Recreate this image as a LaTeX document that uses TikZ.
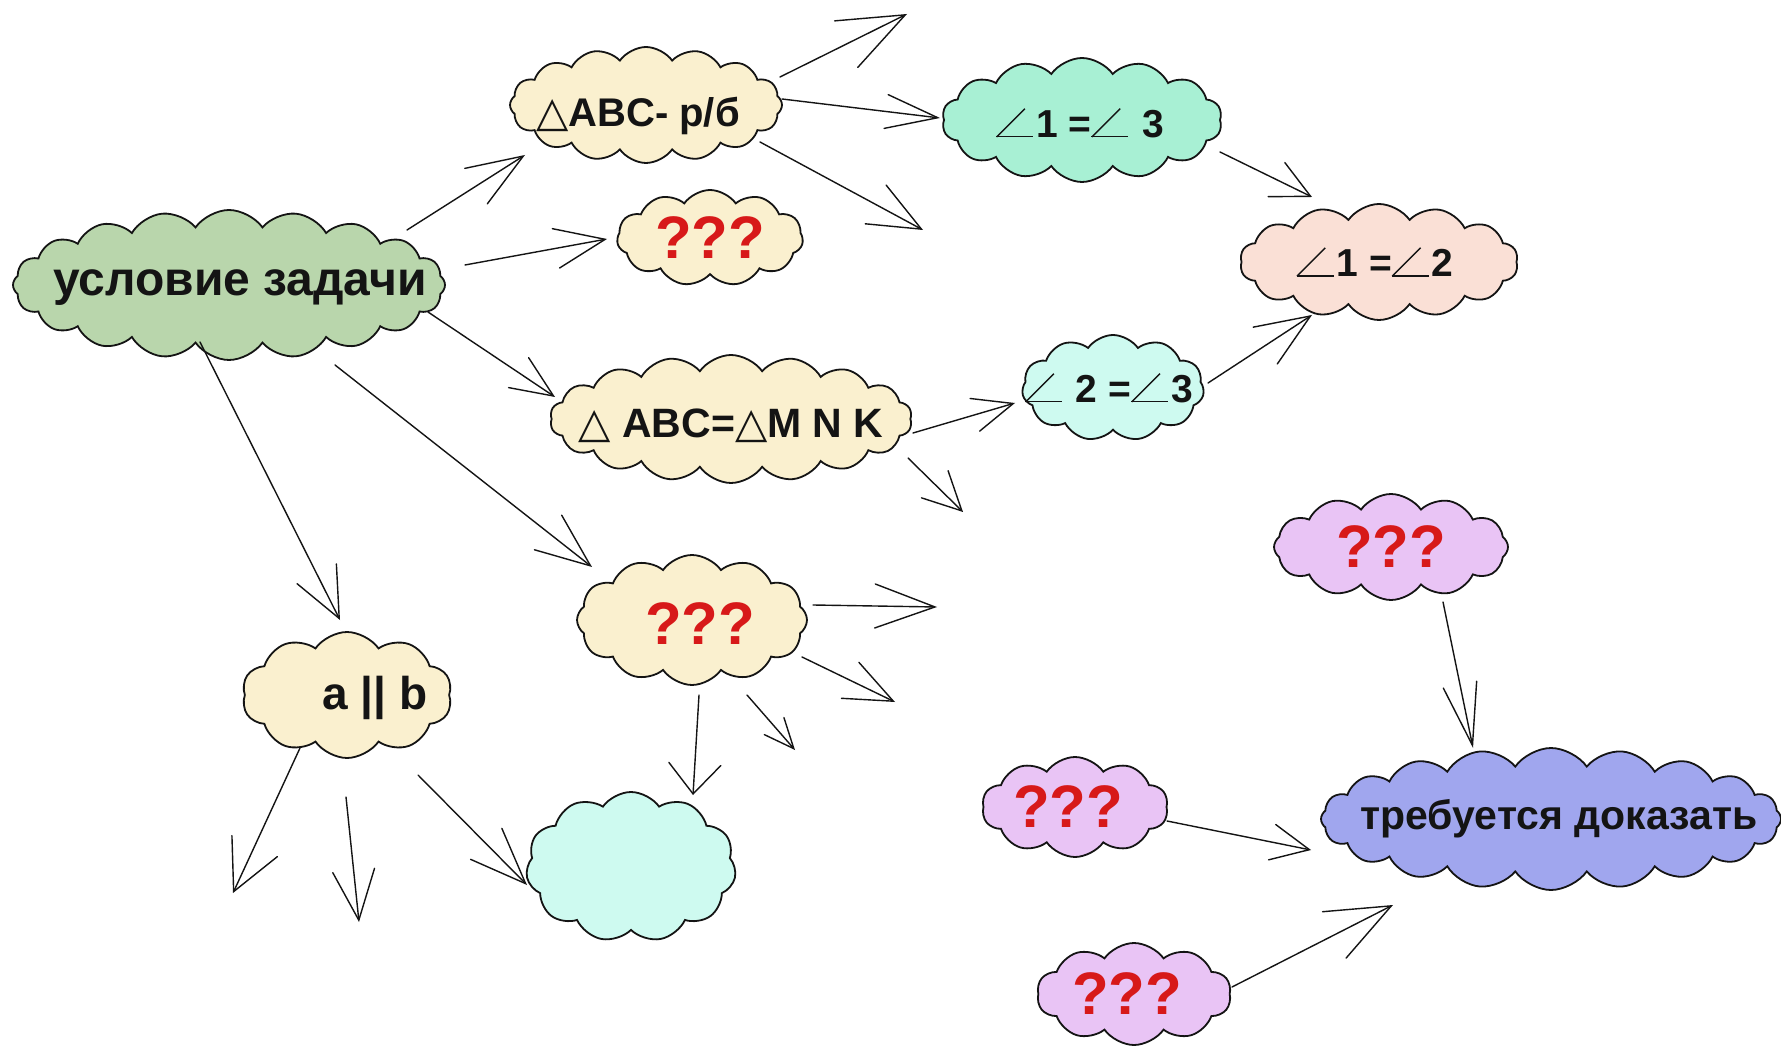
\documentclass[tikz,border=0pt]{standalone}
\usepackage{fontspec}
\setmainfont{Liberation Sans}
\newfontfamily\symf{DejaVu Sans}
\usetikzlibrary{shapes.symbols,arrows.meta,calc}

\definecolor{cgreen}{RGB}{185,214,172}
\definecolor{ccream}{RGB}{250,240,207}
\definecolor{cmint}{RGB}{168,240,212}
\definecolor{caqua}{RGB}{206,250,240}
\definecolor{cpeach}{RGB}{250,224,214}
\definecolor{clilac}{RGB}{233,196,245}
\definecolor{cblue}{RGB}{160,166,238}
\definecolor{qred}{RGB}{215,25,25}
\definecolor{ink}{RGB}{20,20,20}

\newcommand\tx[3]{\makebox[0pt]{\hspace*{#1}\raisebox{#2}[\height][\depth]{#3}}}
\newcommand\mytri{{\symf\fontsize{21}{21}\selectfont\mdseries △}}
\newcommand\myang{\makebox[20pt][l]{\rule{18.5pt}{0.7pt}\hspace*{-18.5pt}\rotatebox[origin=bl]{45}{\rule{20pt}{0.7pt}}}}

\tikzset{
  cl/.style={cloud, draw=ink, line width=0.9pt, cloud puff arc=110,
    cloud ignores aspect, inner sep=0pt, outer sep=0pt, text=ink},
  f19/.style={font=\fontsize{19.5}{21}\selectfont\bfseries},
  qq/.style={text=qred, font=\fontsize{30}{32}\selectfont\bfseries},
  ar/.style 2 args={draw=ink, line width=0.7pt, line cap=round,
    -{Straight Barb[length=#1,width=#2,line cap=round]}}
}

\begin{document}
\begin{tikzpicture}[x=0.5pt,y=-0.5pt]
\fill[white] (0,0) rectangle (1781,1052);
\useasboundingbox (0,0) rectangle (1781,1052);

% clouds
\node[cl, fill=cgreen, cloud puffs=20, minimum width=216pt, minimum height=75pt,
  font=\fontsize{24}{28}\selectfont\bfseries] (gc) at (229,285) {\tx{11pt}{-1.5pt}{условие задачи}};
\node[cl, fill=ccream, cloud puffs=16, minimum width=136pt, minimum height=58pt,
  font=\fontsize{20}{22}\selectfont\bfseries]
  (c1) at (646,105) {\tx{-8pt}{-5.5pt}{\mytri ABC- р/б}};
\node[cl, fill=ccream, cloud puffs=11, minimum width=93pt, minimum height=48pt, qq]
  (q1) at (710,238) {\tx{0pt}{0pt}{???}};
\node[cl, fill=ccream, cloud puffs=18, minimum width=181pt, minimum height=64pt,
  font=\fontsize{20.5}{22}\selectfont\bfseries]
  (c3) at (731,419) {\tx{0pt}{-3.5pt}{\mytri\ ABC=\mytri M N K}};
\node[cl, fill=cmint, cloud puffs=14, minimum width=140pt, minimum height=62pt, f19]
  (a13) at (1082,120) {\tx{-2pt}{-1.5pt}{\myang1 =\myang\ 3}};
\node[cl, fill=cpeach, cloud puffs=14, minimum width=139pt, minimum height=58pt, f19]
  (a12) at (1379,262) {\tx{-4pt}{0pt}{\myang1 =\myang2}};
\node[cl, fill=caqua, cloud puffs=11, minimum width=91pt, minimum height=53pt, f19]
  (a23) at (1113,388) {\tx{-4pt}{0pt}{\myang\ 2 =\myang3}};
\node[cl, fill=ccream, cloud puffs=12, minimum width=115pt, minimum height=65pt, qq]
  (q2) at (692,620) {\tx{8pt}{-2pt}{???}};
\node[cl, fill=ccream, cloud puffs=10, minimum width=105pt, minimum height=63pt,
  font=\fontsize{23}{25}\selectfont\bfseries] (ab) at (347,695) {\tx{28pt}{-1.5pt}{a || b}};
\node[cl, fill=caqua, cloud puffs=11, minimum width=105pt, minimum height=75pt]
  (em) at (631,867) {};
\node[cl, fill=clilac, cloud puffs=12, minimum width=117pt, minimum height=53pt, qq]
  (p1) at (1391,547) {\tx{0pt}{0pt}{???}};
\node[cl, fill=cblue, cloud puffs=20, minimum width=230pt, minimum height=71pt,
  font=\fontsize{20.5}{23}\selectfont\bfseries] (tb) at (1551,819) {\tx{8pt}{0pt}{требуется доказать}};
\node[cl, fill=clilac, cloud puffs=10, minimum width=93pt, minimum height=50pt, qq]
  (p2) at (1075,807) {\tx{-7pt}{0pt}{???}};
\node[cl, fill=clilac, cloud puffs=10, minimum width=97pt, minimum height=51pt, qq]
  (p3) at (1134,994) {\tx{-7pt}{0pt}{???}};

% free arrow ends
\coordinate (fa1) at (907,14);
\coordinate (fa2) at (923,230);
\coordinate (fa3) at (963,512);
\coordinate (fa4) at (937,607);
\coordinate (fa5) at (895,702);
\coordinate (fa6) at (795,750);
\coordinate (fa7) at (233,893);
\coordinate (fa8) at (359,922);

% connectors
\draw[ar={28pt}{21pt}] ($(gc)+(178,-55)$) -- ($(c1)+(-121,50)$);
\draw[ar={25pt}{20pt}] ($(gc)+(236,-20)$) -- ($(q1)+(-103,1)$);
\draw[ar={21pt}{18pt}] ($(gc)+(199,27)$) -- ($(c3)+(-176,-22)$);
\draw[ar={27pt}{22pt}] ($(gc)+(106,80)$) -- ($(q2)+(-100,-53)$);
\draw[ar={25pt}{22pt}] ($(gc)+(-29,57)$) -- ($(ab)+(-7,-75)$);

\draw[ar={26pt}{17pt}] ($(c1)+(136,-6)$) -- ($(a13)+(-142,-2)$);
\draw[ar={33pt}{26pt}] ($(c1)+(134,-28)$) -- (fa1);
\draw[ar={26pt}{22pt}] ($(c1)+(114,37)$) -- (fa2);

\draw[ar={19pt}{19pt}] ($(a13)+(138,32)$) -- ($(a12)+(-67,-65)$);
\draw[ar={27pt}{22pt}] ($(a23)+(95,-5)$) -- ($(a12)+(-67,53)$);

\draw[ar={20pt}{17pt}] ($(c3)+(182,14)$) -- ($(a23)+(-98,15)$);
\draw[ar={19pt}{19pt}] ($(c3)+(177,39)$) -- (fa3);

\draw[ar={30pt}{22pt}] ($(q2)+(121,-15)$) -- (fa4);
\draw[ar={24pt}{20pt}] ($(q2)+(110,37)$) -- (fa5);
\draw[ar={15pt}{13pt}] ($(q2)+(55,75)$) -- (fa6);
\draw[ar={15pt}{26pt}] ($(q2)+(7,75)$) -- ($(em)+(62,-72)$);

\draw[ar={28pt}{22pt}] ($(ab)+(71,80)$) -- ($(em)+(-104,18)$);
\draw[ar={25pt}{25pt}] ($(ab)+(-47,53)$) -- (fa7);
\draw[ar={25pt}{21pt}] ($(ab)+(-1,102)$) -- (fa8);

\draw[ar={31pt}{17pt}] ($(p1)+(52,55)$) -- ($(tb)+(-78,-71)$);
\draw[ar={19pt}{18pt}] ($(p2)+(92,14)$) -- ($(tb)+(-240,31)$);
\draw[ar={32pt}{26pt}] ($(p3)+(98,-7)$) -- ($(tb)+(-158,86)$);
\end{tikzpicture}
\end{document}
